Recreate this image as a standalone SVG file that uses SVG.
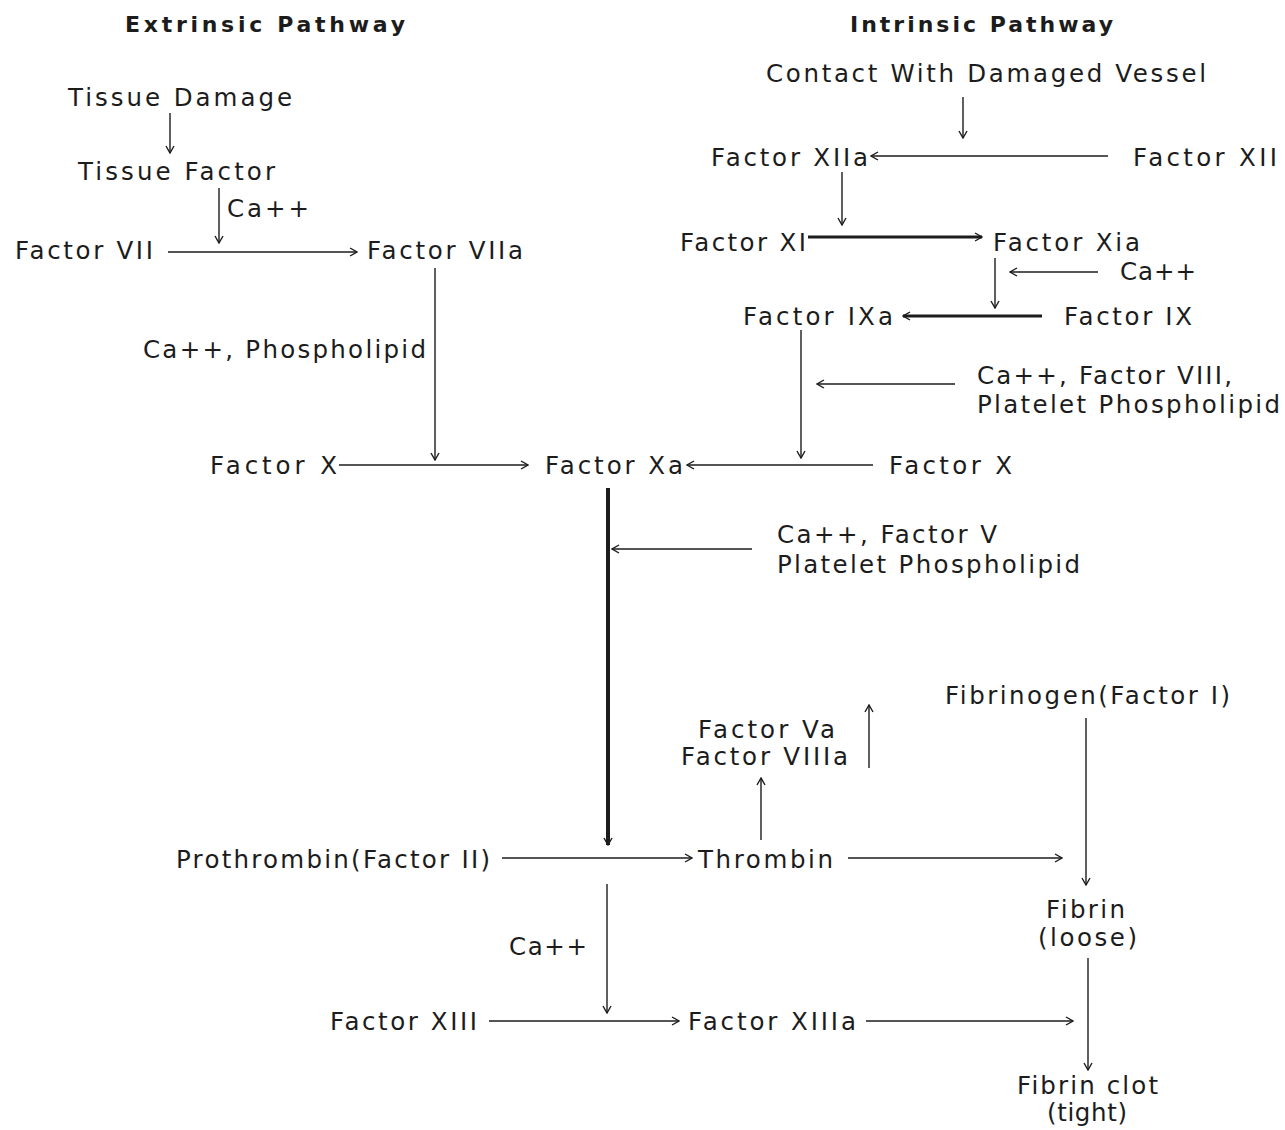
<svg xmlns="http://www.w3.org/2000/svg" width="1285" height="1130" viewBox="0 0 1285 1130">
<style>
text{font-family:"DejaVu Sans","Liberation Sans",Arial,sans-serif;font-size:24.5px;fill:#1c1c1c}
.t{font-weight:bold;font-size:22px}
.c line{stroke:#1c1c1c;stroke-width:1.4;fill:none;marker-end:url(#ah)}
.c line.k{stroke-width:3}
.c line.kk{stroke-width:4}
</style>
<defs>
<marker id="ah" viewBox="-9 -5 10 10" refX="0" refY="0" markerWidth="10" markerHeight="10" markerUnits="userSpaceOnUse" orient="auto">
<path d="M-7,-4 L0,0 L-7,4" fill="none" stroke="#1c1c1c" stroke-width="1.4"/>
</marker>
</defs>
<rect width="1285" height="1130" fill="#fff"/>
<g id="titles">
<text class="t" x="125" y="32" textLength="280" lengthAdjust="spacing">Extrinsic Pathway</text>
<text class="t" x="850" y="32" textLength="263" lengthAdjust="spacing">Intrinsic Pathway</text>
</g>
<g id="tissue-damage"><text x="68" y="106" textLength="224" lengthAdjust="spacing">Tissue Damage</text></g>
<g id="tissue-factor"><text x="78" y="180" textLength="197" lengthAdjust="spacing">Tissue Factor</text></g>
<g id="ca1"><text x="227" y="217" textLength="82" lengthAdjust="spacing">Ca++</text></g>
<g id="factor-vii"><text x="15" y="259" textLength="138" lengthAdjust="spacing">Factor VII</text></g>
<g id="factor-viia"><text x="367" y="259" textLength="156" lengthAdjust="spacing">Factor VIIa</text></g>
<g id="ca-phospholipid"><text x="143" y="358" textLength="283" lengthAdjust="spacing">Ca++, Phospholipid</text></g>
<g id="factor-x-left"><text x="210" y="474" textLength="127" lengthAdjust="spacing">Factor X</text></g>
<g id="factor-xa"><text x="545" y="474" textLength="138" lengthAdjust="spacing">Factor Xa</text></g>
<g id="contact"><text x="766" y="82" textLength="440" lengthAdjust="spacing">Contact With Damaged Vessel</text></g>
<g id="factor-xiia"><text x="711" y="166" textLength="157" lengthAdjust="spacing">Factor XIIa</text></g>
<g id="factor-xii"><text x="1133" y="166" textLength="144" lengthAdjust="spacing">Factor XII</text></g>
<g id="factor-xi"><text x="680" y="251" textLength="126" lengthAdjust="spacing">Factor XI</text></g>
<g id="factor-xia"><text x="993" y="251" textLength="147" lengthAdjust="spacing">Factor Xia</text></g>
<g id="ca2"><text x="1120" y="280" textLength="76" lengthAdjust="spacing">Ca++</text></g>
<g id="factor-ixa"><text x="743" y="325" textLength="150" lengthAdjust="spacing">Factor IXa</text></g>
<g id="factor-ix"><text x="1064" y="325" textLength="128" lengthAdjust="spacing">Factor IX</text></g>
<g id="cofactor-viii">
<text x="977" y="384" textLength="255" lengthAdjust="spacing">Ca++, Factor VIII,</text>
<text x="977" y="413" textLength="303" lengthAdjust="spacing">Platelet Phospholipid</text>
</g>
<g id="factor-x-right"><text x="889" y="474" textLength="123" lengthAdjust="spacing">Factor X</text></g>
<g id="cofactor-v">
<text x="777" y="543" textLength="220" lengthAdjust="spacing">Ca++, Factor V</text>
<text x="777" y="573" textLength="303" lengthAdjust="spacing">Platelet Phospholipid</text>
</g>
<g id="fibrinogen"><text x="945" y="704" textLength="285" lengthAdjust="spacing">Fibrinogen(Factor I)</text></g>
<g id="factor-va-viiia">
<text x="698" y="738" textLength="137" lengthAdjust="spacing">Factor Va</text>
<text x="681" y="765" textLength="167" lengthAdjust="spacing">Factor VIIIa</text>
</g>
<g id="prothrombin"><text x="176" y="868" textLength="314" lengthAdjust="spacing">Prothrombin(Factor II)</text></g>
<g id="thrombin"><text x="698" y="868" textLength="135" lengthAdjust="spacing">Thrombin</text></g>
<g id="fibrin-loose">
<text x="1046" y="918" textLength="79" lengthAdjust="spacing">Fibrin</text>
<text x="1038" y="946" textLength="99" lengthAdjust="spacing">(loose)</text>
</g>
<g id="ca3"><text x="509" y="955" textLength="78" lengthAdjust="spacing">Ca++</text></g>
<g id="factor-xiii"><text x="330" y="1030" textLength="147" lengthAdjust="spacing">Factor XIII</text></g>
<g id="factor-xiiia"><text x="688" y="1030" textLength="168" lengthAdjust="spacing">Factor XIIIa</text></g>
<g id="fibrin-clot">
<text x="1017" y="1094" textLength="141" lengthAdjust="spacing">Fibrin clot</text>
<text x="1047" y="1121" textLength="80" lengthAdjust="spacing">(tight)</text>
</g>
<g id="connectors" class="c">
<line x1="170" y1="113" x2="170" y2="153"/>
<line x1="219" y1="188" x2="219" y2="243"/>
<line x1="168" y1="252" x2="357" y2="252"/>
<line x1="435" y1="268" x2="435" y2="460"/>
<line x1="339" y1="465" x2="528" y2="465"/>
<line x1="963" y1="97" x2="963" y2="138"/>
<line x1="1108" y1="156" x2="871" y2="156"/>
<line x1="842" y1="172" x2="842" y2="225"/>
<line class="k" x1="808" y1="237" x2="982" y2="237"/>
<line x1="995" y1="258" x2="995" y2="308"/>
<line x1="1098" y1="272" x2="1010" y2="272"/>
<line class="k" x1="1042" y1="316" x2="903" y2="316"/>
<line x1="801" y1="330" x2="801" y2="458"/>
<line x1="955" y1="384" x2="817" y2="384"/>
<line x1="873" y1="465" x2="687" y2="465"/>
<line class="kk" x1="608" y1="488" x2="608" y2="845"/>
<line x1="752" y1="549" x2="612" y2="549"/>
<line x1="502" y1="858" x2="692" y2="858"/>
<line x1="761" y1="840" x2="761" y2="778"/>
<line x1="869" y1="768" x2="869" y2="705"/>
<line x1="848" y1="858" x2="1062" y2="858"/>
<line x1="1086" y1="718" x2="1086" y2="885"/>
<line x1="607" y1="884" x2="607" y2="1013"/>
<line x1="489" y1="1021" x2="679" y2="1021"/>
<line x1="866" y1="1021" x2="1073" y2="1021"/>
<line x1="1088" y1="958" x2="1088" y2="1070"/>
</g>
</svg>
